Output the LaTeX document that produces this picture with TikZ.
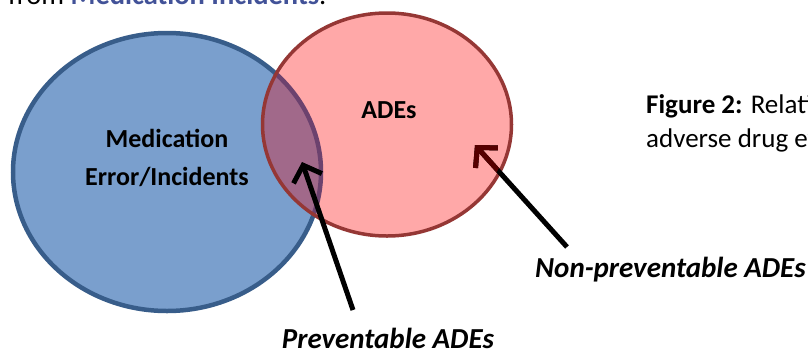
\documentclass[tikz,border=0pt]{standalone}
\usepackage{fontspec}
\setmainfont{Carlito}
\usetikzlibrary{arrows.meta}
\definecolor{bluefill}{RGB}{122,159,205}
\definecolor{blueline}{RGB}{56,93,138}
\definecolor{redfill}{RGB}{255,168,168}
\definecolor{redline}{RGB}{149,55,53}
\definecolor{overlapfill}{RGB}{161,105,138}
\definecolor{overlapline}{RGB}{108,66,110}
\definecolor{titleblue}{RGB}{66,82,152}
\definecolor{darkhead}{RGB}{85,0,0}
\begin{document}
\begin{tikzpicture}[x=1pt,y=-1pt,
  lbl/.style={font=\fontsize{26}{38}\selectfont\bfseries, align=center, inner sep=0pt},
  caption/.style={font=\fontsize{27}{32}\selectfont, anchor=base west, inner sep=0pt},
  pointer/.style={font=\fontsize{29}{34}\selectfont\bfseries\itshape, inner sep=0pt},
  arrowline/.style={line width=5pt, -{Straight Barb[length=14pt,width=30pt,line width=5pt]}}
]
\useasboundingbox (0,0) rectangle (808,354);
\clip (0,0) rectangle (808,354);
% top line of text (cut off)
\node[anchor=base west, inner sep=0pt, font=\fontsize{28.5}{32}\selectfont] (top) at (8,4.5)
  {from \textbf{\color{titleblue}Medication Incidents}.};
% blue set
\path[fill=bluefill, draw=blueline, line width=4.5pt] (167,172) ellipse [x radius=154pt, y radius=139pt];
% red set
\path[fill=redfill] (387,124.5) ellipse [x radius=124.5pt, y radius=111.5pt];
\begin{scope}
  \clip (387,124.5) ellipse [x radius=124.5pt, y radius=111.5pt];
  \path[fill=overlapfill, draw=overlapline, line width=4.5pt] (167,172) ellipse [x radius=154pt, y radius=139pt];
\end{scope}
\path[draw=redline, line width=3.5pt] (387,124.5) ellipse [x radius=124.5pt, y radius=111.5pt];
% labels
\node[lbl] (med) at (167,158) {Medication\\Error/Incidents};
\node[lbl] (ade) at (389,110) {ADEs};
\node[caption] (fig1) at (646,113) {\textbf{Figure 2:} Relationship between medication errors and};
\node[caption] (fig2) at (646,147) {adverse drug events};
% arrows
\coordinate (ptail) at (353,310);
\coordinate (ptip) at (302,162);
\coordinate (ntail) at (567,247);
\coordinate (ntip) at (475,145);
\draw[arrowline] (ptail) -- (ptip);
\draw[arrowline] (ntail) -- (ntip);
\begin{scope}
  \clip (387,124.5) ellipse [x radius=122pt, y radius=109pt];
  \draw[arrowline, darkhead] (ntail) -- (ntip);
\end{scope}
\node[pointer, anchor=base east] (nonprev) at (806,277) {Non-preventable ADEs};
\node[pointer, anchor=base] (prev) at (388,348) {Preventable ADEs};
\end{tikzpicture}
\end{document}
